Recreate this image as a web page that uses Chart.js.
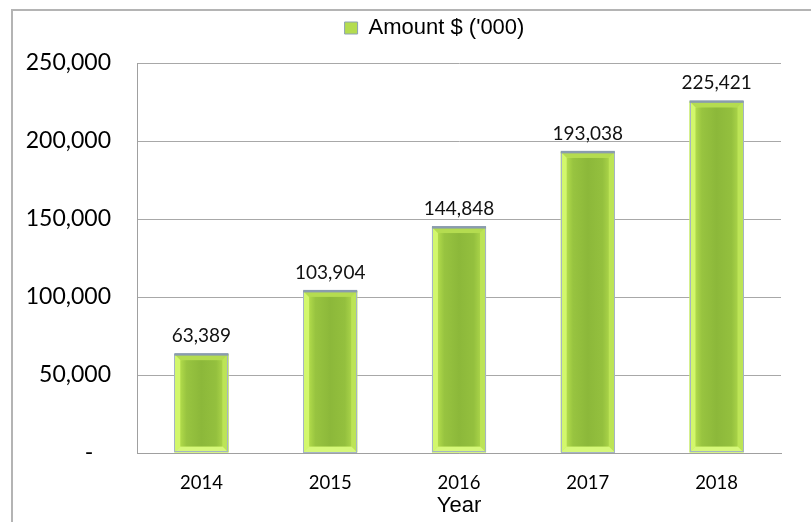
<!DOCTYPE html>
<html>
<head>
<meta charset="utf-8">
<script src="https://cdn.jsdelivr.net/npm/chart.js@4/dist/chart.umd.min.js"></script>
<style>
  html, body { margin: 0; padding: 0; background: #fff; }
  #wrap { position: relative; width: 811px; height: 522px; }
  #frame { position: absolute; left: 11px; top: 9px; right: 0; bottom: 0;
           border-top: 2px solid #b4b4b4; border-left: 2px solid #b4b4b4; pointer-events: none; }
</style>
</head>
<body>
<div id="wrap">
  <canvas id="c" width="811" height="522"></canvas>
  <div id="frame"></div>
</div>
<script>
const categories = ['2014', '2015', '2016', '2017', '2018'];
const amounts = [63389, 103904, 144848, 193038, 225421];
const seriesName = "Amount $ ('000)";
const axisTitle = 'Year';
const yTicks = [0, 50000, 100000, 150000, 200000, 250000];

const fmt = v => v.toLocaleString('en-US');

const layoutShift = {
  id: 'layoutShift',
  afterLayout(chart) {
    const lg = chart.legend;
    if (lg) { lg.top -= 14; lg.bottom -= 14; lg.left += 44; lg.right += 44; }
  }
};

const bevelBars = {
  id: 'bevelBars',
  afterDatasetsDraw(chart) {
    const ctx = chart.ctx;
    const meta = chart.getDatasetMeta(0);
    ctx.save();
    meta.data.forEach((el) => {
      const p = el.getProps(['x', 'y', 'base', 'width'], true);
      const L = p.x - p.width / 2, R = p.x + p.width / 2, T = p.y, B = p.base;
      const b = Math.min(6, (B - T) / 3);
      // outer bevel ring (lime)
      ctx.fillStyle = '#c6ec5c';
      ctx.fillRect(L, T, R - L, B - T);
      // left bevel
      ctx.fillStyle = '#d2f76c';
      ctx.beginPath(); ctx.moveTo(L, T); ctx.lineTo(L + b, T + b); ctx.lineTo(L + b, B - b); ctx.lineTo(L, B); ctx.closePath(); ctx.fill();
      // right bevel
      ctx.fillStyle = '#bce456';
      ctx.beginPath(); ctx.moveTo(R, T); ctx.lineTo(R - b, T + b); ctx.lineTo(R - b, B - b); ctx.lineTo(R, B); ctx.closePath(); ctx.fill();
      // top bevel
      ctx.fillStyle = '#b4dc50';
      ctx.beginPath(); ctx.moveTo(L, T); ctx.lineTo(R, T); ctx.lineTo(R - b, T + b); ctx.lineTo(L + b, T + b); ctx.closePath(); ctx.fill();
      // bottom bevel
      ctx.fillStyle = '#d6f87a';
      ctx.beginPath(); ctx.moveTo(L, B); ctx.lineTo(R, B); ctx.lineTo(R - b, B - b); ctx.lineTo(L + b, B - b); ctx.closePath(); ctx.fill();
      // inner face gradient
      const g = ctx.createLinearGradient(L + b, 0, R - b, 0);
      g.addColorStop(0, '#b0da4a');
      g.addColorStop(0.15, '#98c440');
      g.addColorStop(0.5, '#8cb83a');
      g.addColorStop(0.85, '#94c03e');
      g.addColorStop(1, '#a8d248');
      ctx.fillStyle = g;
      ctx.fillRect(L + b, T + b, R - L - 2 * b, B - T - 2 * b);
      // border
      ctx.strokeStyle = '#a4b4c4';
      ctx.lineWidth = 1;
      ctx.strokeRect(Math.round(L) + 0.5, Math.round(T) + 0.5, Math.round(R - L) - 1, Math.round(B - T) - 1);
      // top cap
      ctx.fillStyle = '#8a9cae';
      ctx.fillRect(L, T - 1, R - L, 2.5);
    });
    ctx.restore();
  }
};

const valueLabels = {
  id: 'valueLabels',
  afterDatasetsDraw(chart) {
    const ctx = chart.ctx;
    const meta = chart.getDatasetMeta(0);
    const data = chart.data.datasets[0].data;
    ctx.save();
    ctx.font = '19px Lato';
    ctx.fillStyle = '#111';
    ctx.textAlign = 'center';
    ctx.textBaseline = 'middle';
    meta.data.forEach((el, i) => {
      ctx.fillText(fmt(data[i]), el.x, el.y - 18);
    });
    ctx.restore();
  }
};

new Chart(document.getElementById('c'), {
  type: 'bar',
  data: {
    labels: categories,
    datasets: [{
      label: seriesName,
      data: amounts,
      backgroundColor: '#b4dc50',
      borderColor: '#8ea2b4',
      borderWidth: 1,
      barPercentage: 0.7,
      categoryPercentage: 0.6
    }]
  },
  options: {
    responsive: false,
    animation: false,
    devicePixelRatio: 1,
    layout: { padding: { left: 0, right: 30, top: 21, bottom: 0 } },
    plugins: {
      legend: {
        position: 'top',
        labels: {
          font: { family: 'Liberation Sans', size: 22 },
          color: '#000',
          boxWidth: 13,
          boxHeight: 12,
          padding: 10
        }
      },
      tooltip: { enabled: false }
    },
    scales: {
      x: {
        grid: { display: false },
        border: { color: '#a0a0a0', width: 1 },
        ticks: { font: { family: 'Lato', size: 18.5 }, color: '#000', padding: 11 },
        title: { display: true, text: axisTitle, font: { family: 'Liberation Sans', size: 22 }, color: '#000', padding: { top: 0, bottom: 3 } },
        afterFit(s) { s.height = 69; }
      },
      y: {
        min: 0,
        max: 250000,
        afterBuildTicks(s) { s.ticks = yTicks.map(v => ({ value: v })); },
        grid: { color: '#a8a8a8', drawTicks: false },
        border: { color: '#a0a0a0', width: 1 },
        ticks: {
          font: { family: 'Lato', size: 23 },
          color: '#000',
          padding: 26,
          callback: v => v === 0 ? '-   ' : fmt(v)
        },
        afterFit(s) { s.width = 137; }
      }
    }
  },
  plugins: [layoutShift, bevelBars, valueLabels]
});
</script>
</body>
</html>
